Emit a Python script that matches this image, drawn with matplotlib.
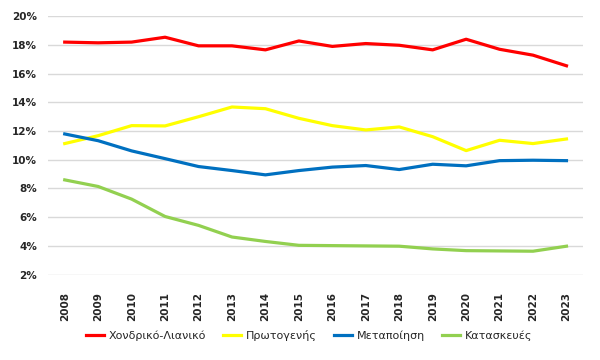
import matplotlib
matplotlib.use('Agg')
import matplotlib.pyplot as plt
from matplotlib.ticker import PercentFormatter

years = [str(y) for y in range(2008, 2024)]

# shares in %
xondriko = [18.2, 18.15, 18.2, 18.54, 17.94, 17.94, 17.66, 18.28,
            17.9, 18.1, 17.98, 17.66, 18.4, 17.7, 17.29, 16.55]
protogenis = [11.13, 11.68, 12.38, 12.36, 13.0, 13.68, 13.56, 12.89,
              12.38, 12.08, 12.29, 11.61, 10.64, 11.36, 11.13, 11.45]
metapoiisi = [11.8, 11.33, 10.62, 10.08, 9.53, 9.25, 8.95, 9.25,
              9.49, 9.6, 9.32, 9.69, 9.58, 9.94, 9.97, 9.94]
kataskeves = [8.6, 8.14, 7.26, 6.05, 5.43, 4.62, 4.31, 4.04,
              4.02, 4.0, 3.98, 3.79, 3.67, 3.65, 3.63, 3.98]

series = [
    ('Χονδρικό-Λιανικό', xondriko, '#FF0000'),
    ('Πρωτογενής', protogenis, '#FFFF00'),
    ('Μεταποίηση', metapoiisi, '#0070C0'),
    ('Κατασκευές', kataskeves, '#92D050'),
]

plt.rcParams['font.family'] = ['DejaVu Sans']

fig = plt.figure(figsize=(6, 3.6), dpi=100)
ax = fig.add_axes([0.08, 0.236, 0.892, 0.72])

x = range(len(years))
for name, vals, col in series:
    ax.plot(x, vals, color=col, linewidth=2.3, label=name, solid_joinstyle='round')

ax.set_xlim(-0.5, len(years) - 0.5)
ax.set_ylim(1.97, 20.03)
ax.set_yticks(range(2, 21, 2))
ax.yaxis.set_major_formatter(PercentFormatter(decimals=0))
ax.set_xticks(list(x))
ax.set_xticklabels(years, rotation=90)

ax.grid(axis='y', color='#d9d9d9', linewidth=1)
ax.set_axisbelow(True)
for s in ax.spines.values():
    s.set_visible(False)
ax.tick_params(axis='both', length=0, labelsize=7.5, labelcolor='#262626')
ax.tick_params(axis='x', pad=12)
ax.tick_params(axis='y', pad=8)
for lab in ax.get_xticklabels() + ax.get_yticklabels():
    lab.set_fontweight('bold')

fig.legend(loc='center', bbox_to_anchor=(0.515, 0.067), ncol=4, frameon=False,
           fontsize=8, handlelength=1.6, columnspacing=1.6, handletextpad=0.4,
           labelcolor='#262626')

fig.savefig('out.png', dpi=100)
